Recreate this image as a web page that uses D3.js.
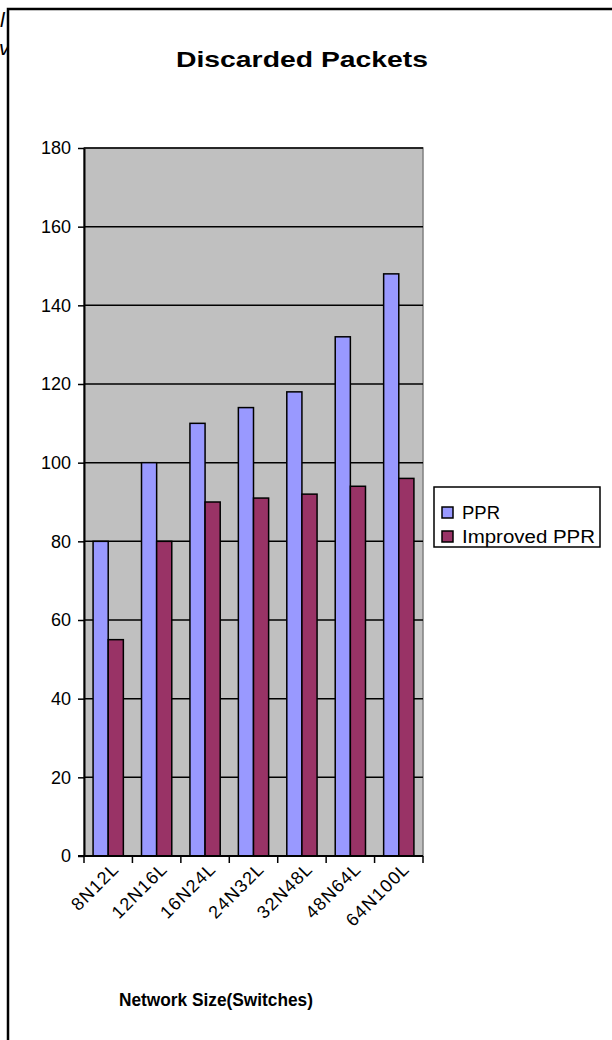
<!DOCTYPE html>
<html>
<head>
<meta charset="utf-8">
<script src="https://cdn.jsdelivr.net/npm/d3@7"></script>
<style>
  html, body { margin: 0; padding: 0; background: #fff; }
  svg { display: block; }
  text { font-family: "Liberation Sans", Arial, sans-serif; }
</style>
</head>
<body>
<svg id="chart" width="612" height="1040"></svg>
<script>
const categories = ["8N12L", "12N16L", "16N24L", "24N32L", "32N48L", "48N64L", "64N100L"];
const seriesNames = ["PPR", "Improved PPR"];
const pprValues = [80, 100, 110, 114, 118, 132, 148];
const improvedValues = [55, 80, 90, 91, 92, 94, 96];
const yTicks = [0, 20, 40, 60, 80, 100, 120, 140, 160, 180];
const seriesColors = ["#9999FF", "#993366"];
const titleText = "Discarded Packets";
const xTitleText = "Network Size(Switches)";

const svg = d3.select("#chart");

// fragments of surrounding page text, left of the chart frame
svg.append("text").attr("x", 0).attr("y", 27).attr("font-size", 21).attr("font-style", "italic").attr("fill", "#000").text("l");
svg.append("text").attr("x", -1).attr("y", 55).attr("font-size", 21).attr("font-style", "italic").attr("fill", "#000").text("v");

// outer chart frame (partially off-page)
svg.append("rect").attr("x", 8).attr("y", 9).attr("width", 700).attr("height", 1100)
  .attr("fill", "#fff").attr("stroke", "#000").attr("stroke-width", 2.5);

const plot = { left: 84, right: 423, top: 148, bottom: 856 };

const y = d3.scaleLinear().domain([0, 180]).range([plot.bottom, plot.top]);
const x0 = d3.scaleBand().domain(categories).range([plot.left, plot.right]).paddingInner(0).paddingOuter(0);
const x1 = d3.scaleBand().domain(seriesNames).range([0, x0.bandwidth()]).paddingInner(0).paddingOuter(0.6);

// plot area background
svg.append("rect").attr("x", plot.left).attr("y", plot.top)
  .attr("width", plot.right - plot.left).attr("height", plot.bottom - plot.top)
  .attr("fill", "#C0C0C0").attr("stroke", "#808080").attr("stroke-width", 1.5);

// gridlines
svg.append("g").selectAll("line").data(yTicks.filter(d => d > 0)).join("line")
  .attr("x1", plot.left).attr("x2", plot.right)
  .attr("y1", d => y(d)).attr("y2", d => y(d))
  .attr("stroke", "#000").attr("stroke-width", 1.5);

// bars
const data = categories.map((c, i) => ({ cat: c, vals: [pprValues[i], improvedValues[i]] }));
const groups = svg.append("g").selectAll("g").data(data).join("g")
  .attr("transform", d => `translate(${x0(d.cat)},0)`);
groups.selectAll("rect").data(d => d.vals.map((v, j) => ({ s: seriesNames[j], v, j }))).join("rect")
  .attr("x", d => x1(d.s)).attr("width", x1.bandwidth())
  .attr("y", d => y(d.v)).attr("height", d => y(0) - y(d.v))
  .attr("fill", d => seriesColors[d.j]).attr("stroke", "#000").attr("stroke-width", 1.5);

// y axis
const yAxis = d3.axisLeft(y).tickValues(yTicks).tickSize(6).tickSizeOuter(0);
const gy = svg.append("g").attr("transform", `translate(${plot.left},0)`).call(yAxis);
gy.select(".domain").attr("stroke", "#000").attr("stroke-width", 2);
gy.selectAll(".tick line").attr("stroke", "#000").attr("stroke-width", 1.5);
gy.selectAll(".tick text").attr("font-size", 18).attr("fill", "#000").attr("x", -13)
  .attr("font-family", "Liberation Sans, Arial, sans-serif");

// x axis
const xAxis = d3.axisBottom(x0).tickSize(0).tickFormat("");
const gx = svg.append("g").attr("transform", `translate(0,${plot.bottom})`).call(xAxis);
gx.select(".domain").attr("stroke", "#000").attr("stroke-width", 2).attr("d", `M${plot.left - 6},0H${plot.right}`);
gx.selectAll(".tick").remove();
const boundaries = d3.range(categories.length + 1).map(i => plot.left + i * x0.step());
gx.selectAll("line.b").data(boundaries).join("line").attr("class", "b")
  .attr("x1", d => d).attr("x2", d => d).attr("y1", 0).attr("y2", 7)
  .attr("stroke", "#000").attr("stroke-width", 1.5);
svg.append("g").selectAll("text").data(categories).join("text")
  .attr("transform", d => `translate(${x0(d) + x0.bandwidth() / 2 + 12},${plot.bottom + 14}) rotate(-45)`)
  .attr("text-anchor", "end").attr("font-size", 18).attr("letter-spacing", 1.2).attr("fill", "#000")
  .text(d => d);

// title
svg.append("text").attr("x", 302).attr("y", 67).attr("text-anchor", "middle")
  .attr("font-size", 22).attr("font-weight", "bold")
  .attr("textLength", 252).attr("lengthAdjust", "spacingAndGlyphs").text(titleText);

// x axis title
svg.append("text").attr("x", 216).attr("y", 1006).attr("text-anchor", "middle")
  .attr("font-size", 18).attr("font-weight", "bold")
  .attr("textLength", 194).attr("lengthAdjust", "spacingAndGlyphs").text(xTitleText);

// legend
const lg = svg.append("g");
lg.append("rect").attr("x", 434).attr("y", 487).attr("width", 166).attr("height", 60)
  .attr("fill", "#fff").attr("stroke", "#000").attr("stroke-width", 1.5);
const items = lg.selectAll("g").data(seriesNames).join("g")
  .attr("transform", (d, i) => `translate(442,${507 + i * 24})`);
items.append("rect").attr("width", 11).attr("height", 11)
  .attr("fill", (d, i) => seriesColors[i]).attr("stroke", "#000").attr("stroke-width", 1.5);
items.append("text").attr("x", 20).attr("y", 12).attr("font-size", 18)
  .attr("textLength", d => d === "PPR" ? 38 : 133).attr("lengthAdjust", "spacingAndGlyphs").text(d => d);
</script>
</body>
</html>
